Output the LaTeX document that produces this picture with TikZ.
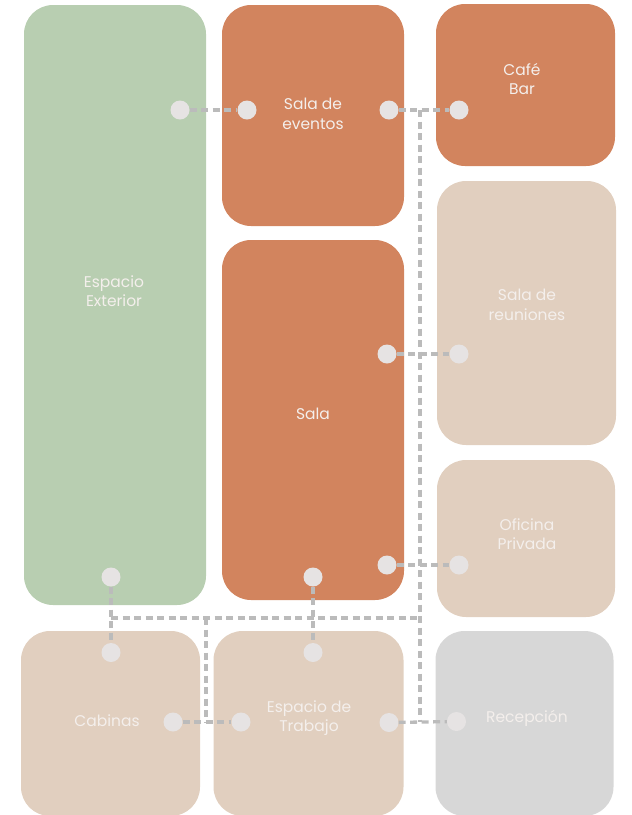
\documentclass[tikz,border=0pt]{standalone}
\usepackage{fontspec}
\setmainfont{Poppins}
\definecolor{cgreen}{HTML}{B8CEB1}
\definecolor{corange}{HTML}{D2845E}
\definecolor{cbeige}{HTML}{E1CFBF}
\definecolor{cgrey}{HTML}{D7D7D7}
\definecolor{ctext}{HTML}{F4EFEC}
\definecolor{cdot}{HTML}{E6E3E3}
\definecolor{cline}{HTML}{BBBBBB}
\begin{document}
\begin{tikzpicture}[x=1pt,y=-1pt,
  room/.style={rounded corners=29pt, inner sep=0pt, draw=none},
  lbl/.style={text=ctext, align=center, font=\fontsize{15.5}{19.5}\selectfont, inner sep=0pt},
  pin/.style={circle, fill=cdot, minimum size=19pt, inner sep=0pt},
  conn/.style={draw=cline, line width=3.3pt, dash pattern=on 7pt off 4.5pt}]
\useasboundingbox (0,0) rectangle (632,815);
% rooms
\node[room, fill=cgreen, minimum width=182pt, minimum height=600pt] (ext) at (115,305) {};
\node[room, fill=corange, minimum width=182pt, minimum height=221pt] (evt) at (313,115.5) {};
\node[room, fill=corange, minimum width=179pt, minimum height=162pt] (cafe) at (525.5,85) {};
\node[room, fill=cbeige, minimum width=179pt, minimum height=264pt] (reun) at (526.5,313) {};
\node[room, fill=corange, minimum width=182pt, minimum height=360pt] (sala) at (313,420) {};
\node[room, fill=cbeige, minimum width=178pt, minimum height=157pt] (ofi) at (526,538.5) {};
\node[room, fill=cbeige, minimum width=179pt, minimum height=185pt] (cab) at (110.5,723.5) {};
\node[room, fill=cbeige, minimum width=190pt, minimum height=185pt] (et) at (308.5,723.5) {};
\node[room, fill=cgrey, minimum width=178pt, minimum height=185pt] (rec) at (524.5,723.5) {};
% labels
\node[lbl] (extT) at (114,291) {Espacio\\ Exterior};
\node[lbl] (evtT) at (313,114) {Sala de\\eventos};
\node[lbl] (cafeT) at (522,79) {Café\\Bar};
\node[lbl] (reunT) at (527,305) {Sala de\\reuniones};
\node[lbl] (salaT) at (313,414) {Sala};
\node[lbl] (ofiT) at (527,534) {Oficina\\Privada};
\node[lbl] (cabT0) at (107,721) {Cabinas};
\node[lbl] (etT0) at (309,718) {Espacio de\\Trabajo};
\node[lbl] (recT) at (527,718) {Recepción};
% pins
\node[pin] (extR) at (180,110) {};
\node[pin] (evtL) at (247,110) {};
\node[pin] (evtR) at (389,110) {};
\node[pin] (cafeL) at (459,110) {};
\node[pin] (salaR1) at (387,354) {};
\node[pin] (reunL) at (459,354) {};
\node[pin] (salaR2) at (387,565) {};
\node[pin] (ofiL) at (459,565) {};
\node[pin] (extB) at (111,577) {};
\node[pin] (salaB) at (313,577) {};
\node[pin] (cabT) at (111,652.5) {};
\node[pin] (etT) at (313,652.5) {};
\node[pin] (cabR) at (173,722) {};
\node[pin] (etL) at (241,722) {};
\node[pin] (etR) at (389,722.5) {};
\node[pin] (recL) at (456.5,721.5) {};
% bus coordinates
\coordinate (bA) at (111,618);
\coordinate (bB) at (420,618);
\coordinate (bTop) at (420,110);
\coordinate (bBot) at (420,722);
\coordinate (bC) at (206,618);
\coordinate (bD) at (206,722);
% connectors
\draw[conn] (extR) -- (evtL);
\draw[conn] (evtR) -- (cafeL);
\draw[conn] (salaR1) -- (reunL);
\draw[conn] (salaR2) -- (ofiL);
\draw[conn] (extB) -- (cabT);
\draw[conn] (salaB) -- (etT);
\draw[conn] (cabR) -- (etL);
\draw[conn] (etR) -- (recL);
\draw[conn] (bA) -- (bB);
\draw[conn] (bTop) -- (bBot);
\draw[conn] (bC) -- (bD);
\end{tikzpicture}
\end{document}
